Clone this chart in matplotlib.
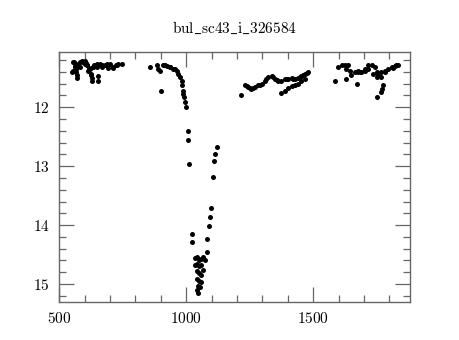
import matplotlib
matplotlib.use("Agg")
import matplotlib.pyplot as plt
from matplotlib.ticker import MultipleLocator

plt.rcParams["font.family"] = "cmr10"
plt.rcParams["mathtext.fontset"] = "cm"
plt.rcParams["axes.formatter.use_mathtext"] = True
plt.rcParams["axes.unicode_minus"] = False

days = [
    549, 552, 555, 556, 560, 562, 565, 566, 568, 571, 575, 581, 588, 594, 601, 601,
    605, 608, 614, 618, 624, 625, 628, 628, 634, 638, 647, 647, 654, 654, 660, 667,
    680, 687, 693, 700, 713, 713, 725, 732, 746,
    568, 581, 594, 608, 621, 634, 667, 687, 726,
    857, 883, 890, 897, 899, 910, 923, 936, 949, 962, 969, 975, 982, 982, 986, 988,
    991, 995, 998, 1008, 1008, 1011, 916, 936, 956,
    1021, 1023, 1035, 1043, 1051, 1059, 1066, 1035, 1043, 1051, 1059, 1043, 1051,
    1059, 1066, 1043, 1051, 1059, 1047, 1055, 1043, 1047, 1074, 1080, 1083, 1089,
    1093, 1096, 1104, 1109, 1113, 1120,
    1215, 1231, 1244, 1257, 1270, 1283, 1297, 1310, 1323, 1336, 1349, 1362, 1375,
    1389, 1402, 1415, 1428, 1441, 1454, 1467, 1480, 1375, 1389, 1402, 1415, 1428,
    1441, 1454, 1467,
    1238, 1250, 1263, 1290, 1316, 1342, 1356, 1395, 1421, 1447, 1460, 1474,
    1585, 1599, 1612, 1625, 1631, 1628, 1638, 1644, 1651, 1664, 1671, 1677, 1690,
    1704, 1717, 1730, 1743, 1750, 1756, 1769, 1776, 1772, 1769, 1750, 1782, 1796,
    1809, 1822, 1828,
    1677, 1690, 1704, 1717, 1736, 1750, 1769, 1782, 1815, 1835,
]
mags = [
    11.41, 11.38, 11.23, 11.24, 11.30, 11.32, 11.36, 11.41, 11.46, 11.50, 11.27, 11.32, 11.21, 11.24, 11.22, 11.27,
    11.25, 11.29, 11.38, 11.34, 11.46, 11.43, 11.51, 11.55, 11.32, 11.28, 11.27, 11.32, 11.47, 11.55, 11.27, 11.29,
    11.29, 11.27, 11.34, 11.27, 11.31, 11.33, 11.28, 11.27, 11.27,
    11.29, 11.24, 11.23, 11.29, 11.35, 11.32, 11.31, 11.28, 11.29,
    11.31, 11.28, 11.35, 11.38, 11.73, 11.29, 11.30, 11.32, 11.35, 11.38, 11.44, 11.49, 11.55, 11.63, 11.72, 11.77,
    11.83, 11.92, 12.00, 12.41, 12.55, 12.97, 11.29, 11.32, 11.35,
    14.15, 14.29, 14.56, 14.54, 14.59, 14.57, 14.54, 14.68, 14.66, 14.70, 14.67, 14.78, 14.82,
    14.85, 14.76, 14.92, 14.95, 14.97, 15.03, 15.05, 15.10, 15.15, 14.60, 14.46, 14.23, 14.02,
    13.87, 13.71, 13.19, 12.91, 12.80, 12.68,
    11.79, 11.63, 11.66, 11.69, 11.66, 11.63, 11.61, 11.55, 11.49, 11.47, 11.52, 11.55, 11.55,
    11.53, 11.52, 11.51, 11.53, 11.51, 11.47, 11.44, 11.41, 11.76, 11.72, 11.68, 11.64, 11.62,
    11.60, 11.56, 11.53,
    11.64, 11.68, 11.68, 11.62, 11.52, 11.49, 11.54, 11.52, 11.52, 11.49, 11.46, 11.42,
    11.55, 11.32, 11.29, 11.28, 11.35, 11.53, 11.29, 11.38, 11.46, 11.41, 11.60, 11.38, 11.41,
    11.38, 11.35, 11.29, 11.32, 11.41, 11.46, 11.49, 11.63, 11.69, 11.75, 11.82, 11.41, 11.35,
    11.32, 11.30, 11.29,
    11.41, 11.41, 11.35, 11.29, 11.44, 11.49, 11.41, 11.38, 11.34, 11.29,
]
x_ticks = [500, 1000, 1500]
y_ticks = [12, 13, 14, 15]
title = r"$\mathrm{bul\_sc43\_i\_326584}$"

fig = plt.figure(figsize=(4.6, 3.4), dpi=100)
ax = fig.add_axes([0.129, 0.1126, 0.762, 0.7334])

ax.plot(days, mags, "o", color="black", ms=3.6, mec="none")

ax.set_xlim(500, 1881)
ax.set_ylim(15.3, 11.07)
ax.set_xticks(x_ticks)
ax.set_yticks(y_ticks)
ax.xaxis.set_minor_locator(MultipleLocator(100))
ax.yaxis.set_minor_locator(MultipleLocator(0.2))

frame = "#666666"
for s in ax.spines.values():
    s.set_color(frame)
    s.set_linewidth(1.0)
ax.tick_params(which="both", direction="in", top=True, right=True, color=frame,
               labelsize=11, width=0.9)
ax.tick_params(which="major", length=10.5, pad=7)
ax.tick_params(which="minor", length=5)

ax.set_title(title, fontsize=11, pad=14)

fig.savefig("out.png", dpi=100)
